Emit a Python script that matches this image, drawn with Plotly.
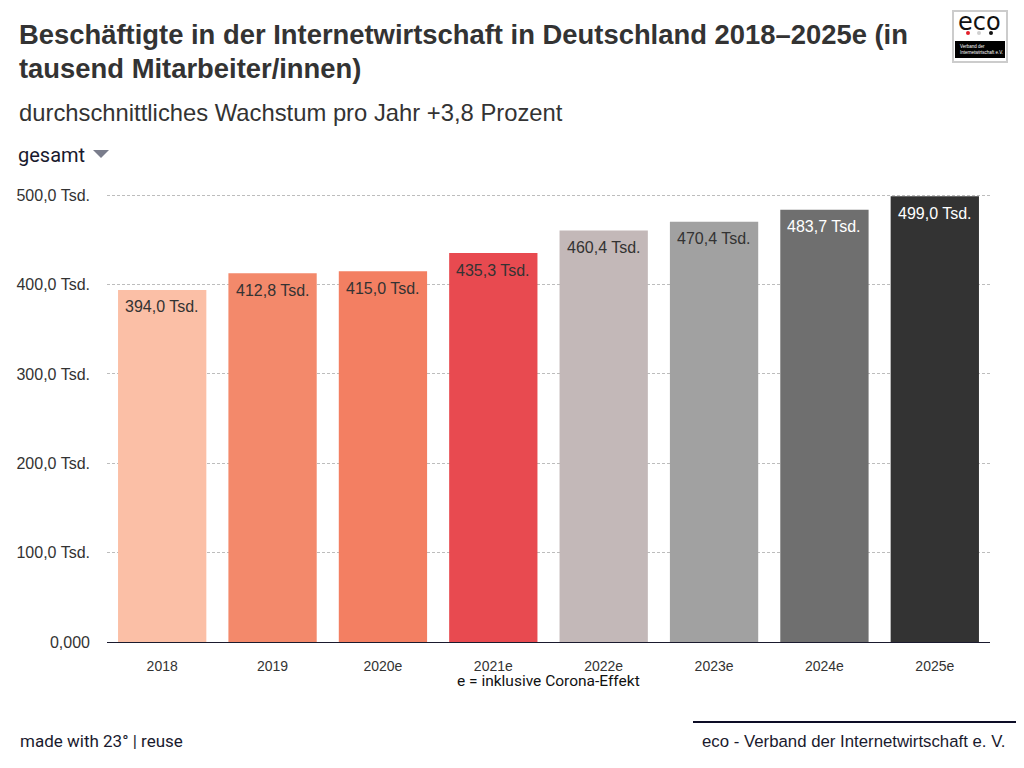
import plotly.graph_objects as go

categories = ["2018", "2019", "2020e", "2021e", "2022e", "2023e", "2024e", "2025e"]
values = [394.0, 412.8, 415.0, 435.3, 460.4, 470.4, 483.7, 499.0]
bar_colors = ["#FBBFA6", "#F3896B", "#F37F62", "#E84A50", "#C3B8B8", "#A1A1A1", "#6F6F6F", "#333333"]
label_colors = ["#333333"] * 6 + ["#FFFFFF"] * 2
value_labels = ["394,0 Tsd.", "412,8 Tsd.", "415,0 Tsd.", "435,3 Tsd.", "460,4 Tsd.", "470,4 Tsd.", "483,7 Tsd.", "499,0 Tsd."]
y_tickvals = [0, 100, 200, 300, 400, 500]
y_ticktext = ["0,000", "100,0 Tsd.", "200,0 Tsd.", "300,0 Tsd.", "400,0 Tsd.", "500,0 Tsd."]

W, H = 1024, 768
L, R, T, B = 107, 34, 193, 126
PW, PH = W - L - R, H - T - B
Y_MAX = 502.5


def px(x):
    return (x - L) / PW


def py(y):
    return (H - B - y) / PH


positions = list(range(len(categories)))

fig = go.Figure()
fig.add_trace(go.Bar(
    x=positions, y=values, marker=dict(color=bar_colors, line=dict(width=0)),
    width=0.8, hoverinfo="skip", showlegend=False,
))

annotations = []
for p, v, t, col in zip(positions, values, value_labels, label_colors):
    annotations.append(dict(x=p, y=v, xref="x", yref="y", text=t, showarrow=False,
                            yanchor="middle", yshift=-17,
                            font=dict(family="Liberation Sans", size=16, color=col)))

sans = "Liberation Sans"
annotations += [
    dict(x=px(17), y=py(34), xref="paper", yref="paper", xanchor="left", yanchor="middle",
         text="<b>Beschäftigte in der Internetwirtschaft in Deutschland 2018–2025e (in</b>",
         showarrow=False, font=dict(family=sans, size=27.4, color="#333333")),
    dict(x=px(17), y=py(68), xref="paper", yref="paper", xanchor="left", yanchor="middle",
         text="<b>tausend Mitarbeiter/innen)</b>",
         showarrow=False, font=dict(family=sans, size=27.4, color="#333333")),
    dict(x=px(17), y=py(112), xref="paper", yref="paper", xanchor="left", yanchor="middle",
         text="durchschnittliches Wachstum pro Jahr +3,8 Prozent",
         showarrow=False, font=dict(family=sans, size=23.8, color="#333333")),
    dict(x=px(16), y=py(155), xref="paper", yref="paper", xanchor="left", yanchor="middle",
         text="gesamt", showarrow=False, font=dict(family="Roboto", size=20, color="#1a1a2e")),
    dict(x=0.5, y=py(681), xref="paper", yref="paper", xanchor="center", yanchor="middle",
         text="e = inklusive Corona-Effekt", showarrow=False,
         font=dict(family="Roboto", size=15.5, color="#111111")),
    dict(x=px(18), y=py(741), xref="paper", yref="paper", xanchor="left", yanchor="middle",
         text="made with 23° | reuse", showarrow=False,
         font=dict(family="Roboto", size=17, color="#1a1a2e")),
    dict(x=px(1007), y=py(741), xref="paper", yref="paper", xanchor="right", yanchor="middle",
         text="eco - Verband der Internetwirtschaft e. V.", showarrow=False,
         font=dict(family=sans, size=16.8, color="#1a1a2e")),
    # logo text
    dict(x=px(979.5), y=py(22), xref="paper", yref="paper", xanchor="center", yanchor="middle",
         text="eco", showarrow=False, font=dict(family="DejaVu Sans", size=24, color="#111111")),
    dict(x=px(958), y=py(49.5), xref="paper", yref="paper", xanchor="left", yanchor="middle",
         text="Verband der<br>Internetwirtschaft e.V.", showarrow=False, align="left",
         font=dict(family=sans, size=4.5, color="#FFFFFF")),
]

shapes = [
    # dropdown triangle
    dict(type="path", xref="paper", yref="paper",
         path=f"M {px(93)} {py(150)} L {px(109)} {py(150)} L {px(101)} {py(158)} Z",
         fillcolor="#7a7d8c", line=dict(width=0)),
    # footer line
    dict(type="line", xref="paper", yref="paper", x0=px(693), x1=px(1016), y0=py(722), y1=py(722),
         line=dict(color="#0d0d26", width=2)),
    # logo box
    dict(type="rect", xref="paper", yref="paper", x0=px(953), x1=px(1007), y0=py(11), y1=py(62),
         fillcolor="#FFFFFF", line=dict(color="#CCCCCC", width=2)),
    dict(type="rect", xref="paper", yref="paper", x0=px(955), x1=px(1005), y0=py(41), y1=py(58),
         fillcolor="#000000", line=dict(width=0)),
    dict(type="circle", xref="paper", yref="paper", x0=px(966), x1=px(970), y0=py(31), y1=py(35),
         fillcolor="#E3202A", line=dict(width=0)),
    dict(type="circle", xref="paper", yref="paper", x0=px(977), x1=px(981), y0=py(31), y1=py(35),
         fillcolor="#D0D0D0", line=dict(width=0)),
    dict(type="circle", xref="paper", yref="paper", x0=px(989), x1=px(993), y0=py(31), y1=py(35),
         fillcolor="#111111", line=dict(width=0)),
]

fig.update_layout(
    width=W, height=H, autosize=False,
    margin=dict(l=L, r=R, t=T, b=B, pad=0),
    paper_bgcolor="#FFFFFF", plot_bgcolor="#FFFFFF",
    annotations=annotations, shapes=shapes,
    font=dict(family=sans, color="#333333"),
    xaxis=dict(range=[-0.5, len(categories) - 0.5], tickvals=positions, ticktext=categories,
               showgrid=False, zeroline=False, showline=True, linecolor="#1a1a2e", linewidth=1,
               ticks="", tickfont=dict(family=sans, size=14, color="#333333"),
               ticklabelstandoff=11, fixedrange=True),
    yaxis=dict(range=[0, Y_MAX], tickvals=y_tickvals, ticktext=y_ticktext,
               showgrid=True, gridcolor="#BDBDBD", griddash="3px,2px", gridwidth=1,
               zeroline=False, showline=False, ticks="",
               tickfont=dict(family=sans, size=16, color="#333333"),
               ticklabelstandoff=16, fixedrange=True),
)

fig.write_html("out.html", config={"displayModeBar": False})
